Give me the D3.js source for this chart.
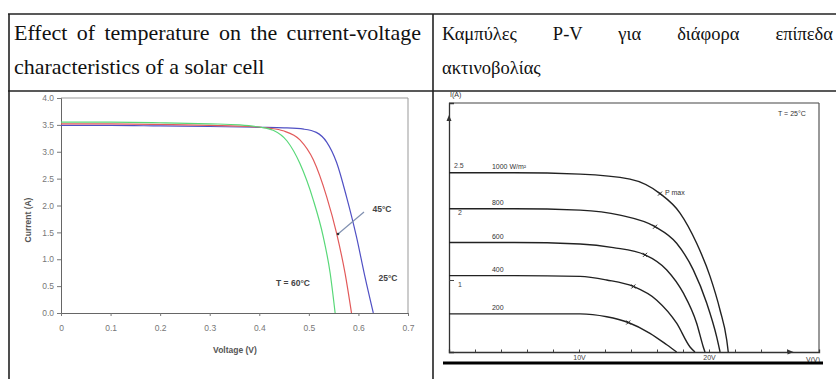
<!DOCTYPE html>
<html>
<head>
<meta charset="utf-8">
<script src="https://cdn.jsdelivr.net/npm/d3@7"></script>
<style>
  body { margin: 0; background: #fff; }
  svg { display: block; }
  .tick text { font-family: "Liberation Sans", Arial, sans-serif; }
  .head text { font-family: "Liberation Serif", "Times New Roman", serif; }
</style>
</head>
<body>
<svg id="page" width="836" height="379"></svg>
<script>
// ---- left chart data: current (A) vs voltage (V)
const tempSeries = ["25°C", "45°C", "60°C"];
const iv25 = [[0,3.49],[0.1,3.49],[0.2,3.48],[0.3,3.47],[0.4,3.455],[0.45,3.445],[0.49,3.42],[0.515,3.36],[0.536,3.18],[0.556,2.80],[0.576,2.16],[0.596,1.42],[0.613,0.68],[0.63,0]];
const iv45 = [[0,3.52],[0.1,3.52],[0.2,3.51],[0.3,3.49],[0.38,3.47],[0.42,3.44],[0.448,3.39],[0.482,3.22],[0.509,2.85],[0.536,2.16],[0.556,1.48],[0.573,0.74],[0.586,0]];
const iv60 = [[0,3.55],[0.1,3.55],[0.2,3.54],[0.3,3.52],[0.36,3.50],[0.40,3.46],[0.428,3.40],[0.456,3.20],[0.482,2.78],[0.509,2.10],[0.529,1.42],[0.543,0.74],[0.553,0]];
const voltTicks = [0, 0.1, 0.2, 0.3, 0.4, 0.5, 0.6, 0.7];
const currTicks = [0, 0.5, 1.0, 1.5, 2.0, 2.5, 3.0, 3.5, 4.0];

// ---- right chart data: I(A) vs V(V) for irradiance levels
const irrLabels = ["1000 W/m²", "800", "600", "400", "200"];
const irr1000 = [[0,2.49],[5,2.49],[10.08,2.47],[13.92,2.40],[16.23,2.20],[17.77,1.93],[19.05,1.51],[20.08,1.05],[20.85,0.58],[21.36,0.17],[21.48,0]];
const irr800 = [[0,1.99],[5,1.99],[10.08,1.97],[13.15,1.90],[15.85,1.74],[17.51,1.51],[18.79,1.14],[19.82,0.68],[20.59,0.21],[20.85,0]];
const irr600 = [[0,1.52],[5,1.52],[10.08,1.50],[12.64,1.45],[15.08,1.35],[16.75,1.14],[18.02,0.82],[19.05,0.40],[19.56,0.07],[19.69,0]];
const irr400 = [[0,1.06],[5,1.06],[10.08,1.05],[12.13,1.00],[14.18,0.91],[15.98,0.72],[17.51,0.40],[18.54,0.07],[18.92,0]];
const irr200 = [[0,0.53],[5,0.53],[10.08,0.53],[12.13,0.49],[13.79,0.41],[15.46,0.26],[16.75,0.10],[17.51,0]];
const pmaxPoints = [[16.23,2.20],[15.85,1.74],[15.08,1.35],[14.18,0.91],[13.79,0.41]];
const ampTicks = [1, 2, 2.5];
const voltTicksR = [2,4,6,8,10,12,14,16,18,20,22,24,26];

// header text: [text, x, baseline, font size, justified width or null]
const headerLines = [
  ["Effect of temperature on the current-voltage", 14, 40, 22, 407],
  ["characteristics of a solar cell", 14, 74, 22, null],
  ["Καμπύλες P-V για διάφορα επίπεδα", 442, 40, 18.5, 391],
  ["ακτινοβολίας", 442, 74, 18.5, null]
];

const svg = d3.select("#page");
svg.append("rect").attr("width", 836).attr("height", 379).attr("fill", "#fff");

// ---- table frame and header
const table = svg.append("g").attr("stroke", "#222").attr("stroke-width", 1.6);
table.append("line").attr("x1", 8).attr("x2", 836).attr("y1", 14).attr("y2", 14);
table.append("line").attr("x1", 8).attr("x2", 836).attr("y1", 91).attr("y2", 91);
table.append("line").attr("x1", 9).attr("x2", 9).attr("y1", 14).attr("y2", 379);
table.append("line").attr("x1", 433).attr("x2", 433).attr("y1", 14).attr("y2", 379);

const head = svg.append("g").attr("class", "head").attr("fill", "#111");
headerLines.forEach(([t, hx, hy, fs, w]) => {
  const el = head.append("text").attr("x", hx).attr("y", hy).style("font-size", fs + "px").text(t);
  if (w) {
    // justify by stretching the word gaps
    const natural = el.node().getComputedTextLength();
    const gaps = t.split(" ").length - 1;
    el.attr("word-spacing", Math.max(0, (w - natural) / gaps));
  }
});

// ---- left chart
const L = {left: 61, right: 408, top: 98, bottom: 313};
const x = d3.scaleLinear().domain([0, 0.7]).range([L.left, L.right]);
const y = d3.scaleLinear().domain([0, 4]).range([L.bottom, L.top]);

const left = svg.append("g");
left.append("line").attr("x1", L.left).attr("x2", L.right).attr("y1", L.top).attr("y2", L.top).attr("stroke", "#999");
left.append("line").attr("x1", L.right).attr("x2", L.right).attr("y1", L.top).attr("y2", L.bottom).attr("stroke", "#999");

const yAxis = left.append("g").attr("transform", `translate(${L.left},0)`)
  .call(d3.axisLeft(y).tickValues(currTicks).tickFormat(d3.format(".1f")).tickSize(4).tickPadding(3));
const xAxis = left.append("g").attr("transform", `translate(0,${L.bottom})`)
  .call(d3.axisBottom(x).tickValues(voltTicks).tickFormat(d => d === 0 ? "0" : d3.format(".1f")(d)).tickSize(3).tickPadding(9));
[yAxis, xAxis].forEach(a => {
  a.select(".domain").attr("stroke", "#666");
  a.selectAll(".tick line").attr("stroke", "#777");
  a.selectAll(".tick text").attr("fill", "#777").style("font-size", "8.5px");
});

left.append("text").attr("x", 235).attr("y", 353).attr("text-anchor", "middle")
  .style("font", "bold 8.5px 'Liberation Sans', Arial, sans-serif").attr("fill", "#555")
  .text("Voltage (V)");
left.append("text").attr("transform", "translate(31,220) rotate(-90)").attr("text-anchor", "middle")
  .style("font", "bold 8.5px 'Liberation Sans', Arial, sans-serif").attr("fill", "#555")
  .text("Current (A)");

const ivLine = d3.line().x(d => x(d[0])).y(d => y(d[1])).curve(d3.curveMonotoneX);
const tempColors = ["#5050c4", "#e25a5a", "#58d878"];
[iv25, iv45, iv60].forEach((s, i) => {
  left.append("path").datum(s).attr("d", ivLine).attr("fill", "none")
    .attr("stroke", tempColors[i]).attr("stroke-width", 1.2);
});

const ann = left.append("g").style("font", "bold 8.5px 'Liberation Sans', Arial, sans-serif").attr("fill", "#444");
ann.append("text").attr("x", 382).attr("y", 212).attr("text-anchor", "middle").text("45°C");
ann.append("text").attr("x", 388).attr("y", 281).attr("text-anchor", "middle").text("25°C");
ann.append("text").attr("x", 293).attr("y", 286).attr("text-anchor", "middle").text("T = 60°C");
left.append("line").attr("x1", 364).attr("y1", 212).attr("x2", 338).attr("y2", 234)
  .attr("stroke", "#8090b0").attr("stroke-width", 1.2);
left.append("circle").attr("cx", 338).attr("cy", 234).attr("r", 1.3).attr("fill", "#333");

// ---- right chart
const R = {left: 449, right: 819, top: 103, bottom: 352};
const xr = d3.scaleLinear().domain([0, 28.46]).range([R.left, R.right]);
const yr = d3.scaleLinear().domain([0, 3.458]).range([R.bottom, R.top]);

const right = svg.append("g");
right.append("line").attr("x1", R.left).attr("x2", R.right).attr("y1", R.top).attr("y2", R.top).attr("stroke", "#444").attr("stroke-width", 1.2);
right.append("line").attr("x1", R.right).attr("x2", R.right).attr("y1", R.top).attr("y2", R.bottom).attr("stroke", "#555").attr("stroke-width", 1.2);

const xrAxis = right.append("g").attr("transform", `translate(0,${R.bottom})`)
  .call(d3.axisBottom(xr).tickValues(voltTicksR).tickFormat(d => (d === 10 || d === 20) ? d + "V" : "").tickSize(-2.5).tickPadding(3));
const yrAxis = right.append("g").attr("transform", `translate(${R.left},0)`)
  .call(d3.axisRight(yr).tickValues(ampTicks).tickFormat(d => d === 2.5 ? "2.5" : d3.format("d")(d)).tickSize(5).tickPadding(4));
[xrAxis, yrAxis].forEach(a => {
  a.select(".domain").attr("stroke", "#333").attr("stroke-width", 1.3);
  a.selectAll(".tick line").attr("stroke", "#444");
  a.selectAll(".tick text").attr("fill", "#444").style("font-size", "7px");
});
yrAxis.selectAll(".tick").filter(d => d === 2.5).select("line").remove();
yrAxis.selectAll(".tick").filter(d => d === 2.5).select("text").attr("x", 5).attr("dy", "-0.6em");
yrAxis.selectAll(".tick").filter(d => d !== 2.5).select("text").attr("dy", "0.9em");

// axis arrowheads
right.append("path").attr("d", `M${R.left},${R.top + 12}l-2.5,6h5z`).attr("fill", "#333");
right.append("path").attr("d", `M${xr(26.5)},${R.bottom}l-6,-2.5v5z`).attr("fill", "#333");

const rtxt = right.append("g").style("font", "7px 'Liberation Sans', Arial, sans-serif").attr("fill", "#333");
rtxt.append("text").attr("x", 450).attr("y", 97).text("I(A)");
rtxt.append("text").attr("x", 806).attr("y", 362).text("V(V)");
rtxt.append("text").attr("x", 778).attr("y", 116).text("T = 25°C");

const pvLine = d3.line().x(d => xr(d[0])).y(d => yr(d[1])).curve(d3.curveMonotoneX);
[irr1000, irr800, irr600, irr400, irr200].forEach((s, i) => {
  right.append("path").datum(s).attr("d", pvLine).attr("fill", "none")
    .attr("stroke", "#222").attr("stroke-width", 1.4);
  rtxt.append("text").attr("x", xr(3.3)).attr("y", yr(s[0][1]) - 4).text(irrLabels[i]);
});
right.selectAll(".pm").data(pmaxPoints).enter().append("path").attr("class", "pm")
  .attr("d", d => `M${xr(d[0]) - 2},${yr(d[1]) - 2}l4,4M${xr(d[0]) - 2},${yr(d[1]) + 2}l4,-4`)
  .attr("stroke", "#222").attr("stroke-width", 1);
rtxt.append("text").attr("x", xr(pmaxPoints[0][0]) + 5).attr("y", yr(pmaxPoints[0][1]) + 1).text("P max");

svg.append("line").attr("x1", 443).attr("x2", 823).attr("y1", 363).attr("y2", 363)
  .attr("stroke", "#000").attr("stroke-width", 3);
</script>
</body>
</html>
